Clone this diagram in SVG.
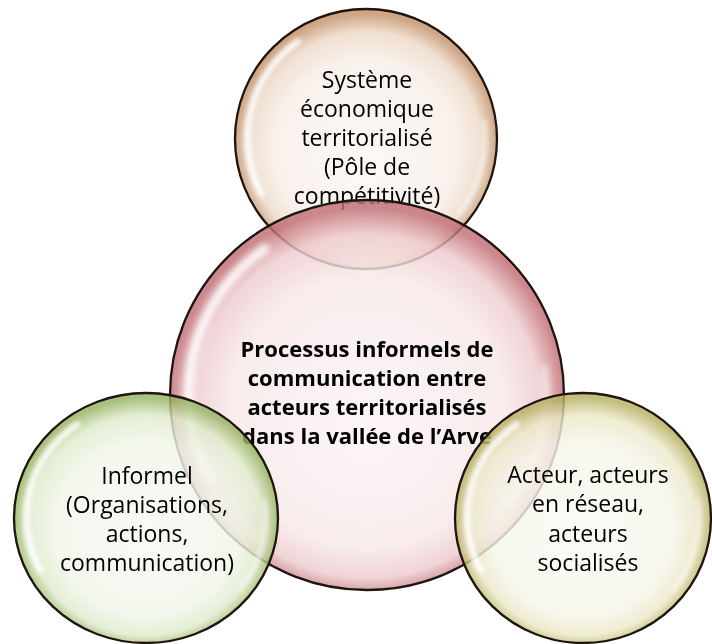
<svg xmlns="http://www.w3.org/2000/svg" xmlns:xlink="http://www.w3.org/1999/xlink" width="712" height="644" viewBox="0 0 712 644">
<defs>
<style>
.bub{stroke:#1f150f;stroke-width:2.3;fill-opacity:0.82}
.t{font-family:"Open Sans","Noto Sans","Liberation Sans",sans-serif;font-size:23px;fill:#000;text-anchor:middle}
.b{font-family:"Open Sans","Noto Sans","Liberation Sans",sans-serif;font-size:22px;font-weight:bold;fill:#000;text-anchor:middle}
</style>
<radialGradient id="gTan" cx="50%" cy="52%" r="50%" fx="50%" fy="60%">
<stop offset="0" stop-color="#fcf8f5"/><stop offset="0.7" stop-color="#f7eee7"/><stop offset="0.88" stop-color="#edd9c7"/><stop offset="1" stop-color="#c4936b"/>
</radialGradient>
<radialGradient id="gPink" cx="50%" cy="52%" r="50%" fx="50%" fy="60%">
<stop offset="0" stop-color="#fcf3f4"/><stop offset="0.7" stop-color="#f7e8e9"/><stop offset="0.88" stop-color="#eecacd"/><stop offset="1" stop-color="#c06e74"/>
</radialGradient>
<radialGradient id="gGreen" cx="50%" cy="52%" r="50%" fx="50%" fy="60%">
<stop offset="0" stop-color="#f7faf3"/><stop offset="0.7" stop-color="#f0f5e8"/><stop offset="0.88" stop-color="#dfeacb"/><stop offset="1" stop-color="#97b463"/>
</radialGradient>
<radialGradient id="gYellow" cx="50%" cy="52%" r="50%" fx="50%" fy="60%">
<stop offset="0" stop-color="#fafaf4"/><stop offset="0.7" stop-color="#f6f5e9"/><stop offset="0.88" stop-color="#ebe8c8"/><stop offset="1" stop-color="#b7b163"/>
</radialGradient>
<filter id="soft" x="-20%" y="-20%" width="140%" height="140%"><feGaussianBlur stdDeviation="1.6"/></filter>
<g id="shine" fill="none" stroke="#ffffff" stroke-linecap="round" filter="url(#soft)">
<path d="M -80 42 A 91 91 0 0 1 -52 -75" stroke-width="5" opacity="0.9"/>
<path d="M 90 -14 A 91 91 0 0 1 71 57" stroke-width="3" opacity="0.6"/>
</g>
</defs>
<rect width="712" height="644" fill="#ffffff"/>
<g id="node-top">
<ellipse class="bub" cx="366" cy="139" rx="131" ry="130" fill="url(#gTan)"/>
<use xlink:href="#shine" transform="translate(366 139) scale(1.31 1.3)"/>
<text class="t" x="367" y="88">Système</text>
<text class="t" x="367" y="117">économique</text>
<text class="t" x="367" y="146">territorialisé</text>
<text class="t" x="367" y="175">(Pôle de</text>
<text class="t" x="367" y="204">compétitivité)</text>
</g>
<g id="node-center">
<ellipse class="bub" cx="367" cy="395" rx="197" ry="195" fill="url(#gPink)"/>
<use xlink:href="#shine" transform="translate(367 395) scale(1.97 1.95)"/>
<text class="b" x="367" y="357">Processus informels de</text>
<text class="b" x="367" y="386">communication entre</text>
<text class="b" x="367" y="415">acteurs territorialisés</text>
<text class="b" x="367" y="444">dans la vallée de l’Arve</text>
</g>
<g id="node-left">
<ellipse class="bub" cx="146" cy="518" rx="132" ry="125" fill="url(#gGreen)"/>
<use xlink:href="#shine" transform="translate(146 518) scale(1.32 1.25)"/>
<text class="t" x="147" y="484">Informel</text>
<text class="t" x="147" y="513">(Organisations,</text>
<text class="t" x="147" y="542">actions,</text>
<text class="t" x="147" y="571">communication)</text>
</g>
<g id="node-right">
<ellipse class="bub" cx="583" cy="518" rx="128" ry="125" fill="url(#gYellow)"/>
<use xlink:href="#shine" transform="translate(583 518) scale(1.28 1.25)"/>
<text class="t" x="588" y="483">Acteur, acteurs</text>
<text class="t" x="588" y="512">en réseau,</text>
<text class="t" x="588" y="542">acteurs</text>
<text class="t" x="588" y="571">socialisés</text>
</g>
<g id="connectors"/>
</svg>
